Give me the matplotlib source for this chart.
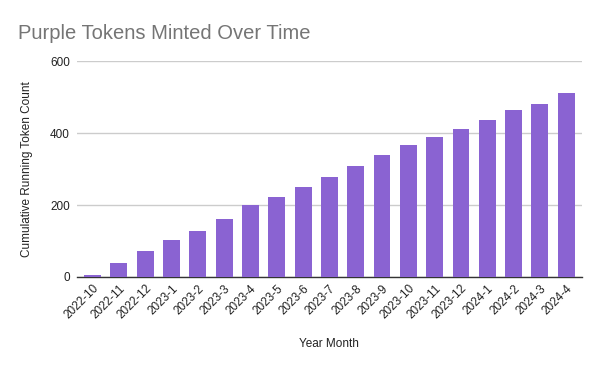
import matplotlib.pyplot as plt
import numpy as np

plt.rcParams['font.family'] = ['Liberation Sans', 'DejaVu Sans']

# month labels and cumulative token counts
months = ['2022-10', '2022-11', '2022-12', '2023-1', '2023-2', '2023-3', '2023-4',
          '2023-5', '2023-6', '2023-7', '2023-8', '2023-9', '2023-10', '2023-11',
          '2023-12', '2024-1', '2024-2', '2024-3', '2024-4']
token_counts = [6, 40, 73, 104, 129, 160, 199, 221, 249, 277, 308, 338, 366,
                389, 411, 436, 464, 481, 511]
y_ticks = [0, 200, 400, 600]

fig = plt.figure(figsize=(6, 3.71), dpi=100)
ax = fig.add_axes([0.128, 0.2534, 0.842, 0.582])

x = np.arange(len(months))
ax.bar(x, token_counts, width=0.64, color='#8a63d2', zorder=3)

# light horizontal grid like google sheets
ax.grid(axis='y', color='#cccccc', linewidth=1, zorder=0)
ax.set_axisbelow(True)
ax.set_ylim(0, 600)
ax.set_yticks(y_ticks)
ax.set_xlim(-0.6, len(months) - 0.4)

for side in ['top', 'right', 'left']:
    ax.spines[side].set_visible(False)
ax.spines['bottom'].set_color('#333333')
ax.spines['bottom'].set_linewidth(1)

ax.set_xticks(x)
ax.set_xticklabels(months, rotation=45, ha='right', rotation_mode='anchor', fontsize=8.5)
ax.tick_params(axis='both', length=0, labelsize=8.5, colors='#222222')
ax.tick_params(axis='x', pad=4)
ax.tick_params(axis='y', pad=5)

ax.set_xlabel('Year Month', fontsize=8.5, color='#222222', labelpad=12)
ax.set_ylabel('Cumulative Running Token Count', fontsize=8.5, color='#222222', labelpad=12)

fig.text(0.03, 0.91, 'Purple Tokens Minted Over Time', fontsize=14.5, color='#757575',
         ha='left', va='center')

fig.savefig('out.png', dpi=100)
